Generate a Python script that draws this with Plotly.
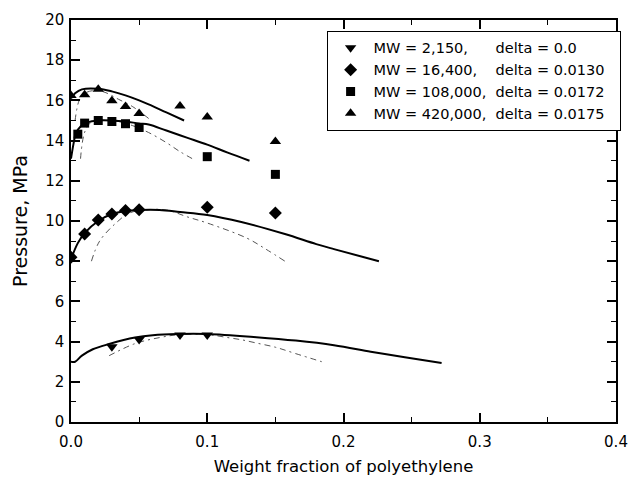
import plotly.graph_objects as go

# ---- measured data (weight fraction of PE, pressure in MPa) ----
x_mw2150 = [0.03, 0.05, 0.08, 0.10]
y_mw2150 = [3.75, 4.10, 4.33, 4.33]

x_mw16400 = [0.0, 0.01, 0.02, 0.03, 0.04, 0.05, 0.10, 0.15]
y_mw16400 = [8.20, 9.35, 10.05, 10.35, 10.52, 10.56, 10.68, 10.40]

x_mw108000 = [0.005, 0.01, 0.02, 0.03, 0.04, 0.05, 0.10, 0.15]
y_mw108000 = [14.32, 14.87, 15.00, 14.95, 14.84, 14.65, 13.20, 12.32]

x_mw420000 = [0.0, 0.01, 0.02, 0.03, 0.04, 0.05, 0.08, 0.10, 0.15]
y_mw420000 = [16.25, 16.28, 16.55, 15.98, 15.70, 15.35, 15.72, 15.18, 13.95]

# ---- model curves: solid (with delta) ----
xs_2150 = [0.0, 0.003, 0.008, 0.016, 0.028, 0.047, 0.06, 0.078, 0.10, 0.136, 0.165, 0.193, 0.22, 0.245, 0.272]
ys_2150 = [3.00, 3.00, 3.30, 3.62, 3.88, 4.20, 4.32, 4.38, 4.38, 4.22, 4.05, 3.82, 3.50, 3.22, 2.94]

xs_16400 = [0.0, 0.005, 0.01, 0.02, 0.03, 0.04, 0.05, 0.065, 0.08, 0.10, 0.125, 0.157, 0.18, 0.193, 0.226]
ys_16400 = [8.10, 8.90, 9.40, 10.00, 10.35, 10.50, 10.55, 10.55, 10.45, 10.30, 9.95, 9.35, 8.85, 8.60, 8.00]

xs_108000 = [0.0, 0.002, 0.0035, 0.007, 0.012, 0.02, 0.03, 0.04, 0.05, 0.057, 0.07, 0.085, 0.10, 0.115, 0.131]
ys_108000 = [13.10, 13.90, 14.35, 14.70, 14.90, 15.00, 15.00, 14.95, 14.85, 14.80, 14.50, 14.15, 13.80, 13.40, 13.00]

xs_420000 = [0.0, 0.003, 0.008, 0.02, 0.03, 0.04, 0.05, 0.057, 0.07, 0.083]
ys_420000 = [16.10, 16.35, 16.55, 16.58, 16.45, 16.25, 16.00, 15.80, 15.40, 15.00]

# ---- model curves: dashed (without delta) ----
xd_2150 = [0.028, 0.047, 0.065, 0.08, 0.10, 0.115, 0.126, 0.136, 0.15, 0.165, 0.184]
yd_2150 = [3.30, 3.90, 4.20, 4.35, 4.35, 4.20, 4.08, 3.93, 3.72, 3.40, 3.00]

xd_16400 = [0.015, 0.021, 0.033, 0.043, 0.055, 0.07, 0.0856, 0.10, 0.129, 0.143, 0.157]
yd_16400 = [8.00, 9.00, 9.90, 10.40, 10.55, 10.55, 10.20, 9.90, 9.15, 8.60, 8.00]

xd_108000 = [0.007, 0.0105, 0.0165, 0.025, 0.035, 0.045, 0.057, 0.07, 0.08, 0.0904]
yd_108000 = [13.10, 14.50, 15.00, 15.00, 14.95, 14.75, 14.40, 13.90, 13.45, 13.05]

xd_420000 = [0.003, 0.006, 0.01, 0.018, 0.025, 0.035, 0.045, 0.057]
yd_420000 = [15.00, 16.00, 16.35, 16.50, 16.40, 16.05, 15.70, 15.10]

NB = "\u00a0"
labels = [
    "MW = 2,150," + NB * 6 + "delta = 0.0",
    "MW = 16,400," + NB * 4 + "delta = 0.0130",
    "MW = 108,000," + NB * 2 + "delta = 0.0172",
    "MW = 420,000," + NB * 2 + "delta = 0.0175" + NB * 2,
]

FONT = "DejaVu Sans"
fig = go.Figure()

solid = [(xs_2150, ys_2150), (xs_16400, ys_16400), (xs_108000, ys_108000), (xs_420000, ys_420000)]
dashed = [(xd_2150, yd_2150), (xd_16400, yd_16400), (xd_108000, yd_108000), (xd_420000, yd_420000)]

for x, y in dashed:
    fig.add_trace(go.Scatter(x=x, y=y, mode="lines", showlegend=False, hoverinfo="skip",
                             line=dict(color="#555555", width=1, dash="6px,4px,2px,4px", shape="spline")))
for x, y in solid:
    fig.add_trace(go.Scatter(x=x, y=y, mode="lines", showlegend=False, hoverinfo="skip",
                             line=dict(color="black", width=2, shape="spline")))

points = [
    (x_mw2150, y_mw2150, "triangle-down", 10),
    (x_mw16400, y_mw16400, "diamond", 10),
    (x_mw108000, y_mw108000, "square", 9),
    (x_mw420000, y_mw420000, "triangle-up", 10),
]
for (x, y, sym, size), name in zip(points, labels):
    fig.add_trace(go.Scatter(x=x, y=y, mode="markers", name=name,
                             marker=dict(symbol=sym, size=size, color="black")))

axis_common = dict(
    showline=True, linecolor="black", linewidth=1.5, mirror="ticks",
    ticks="inside", ticklen=9, tickwidth=1.5, tickcolor="black",
    showgrid=False, zeroline=False,
    tickfont=dict(family=FONT, size=15, color="black"),
)

fig.update_xaxes(range=[0, 0.4], tickvals=[0, 0.1, 0.2, 0.3, 0.4], tickformat=".1f",
                 ticklabelstandoff=5,
                 minor=dict(tickvals=[0.05, 0.15, 0.25, 0.35], ticks="inside", ticklen=5,
                            tickwidth=1, tickcolor="black"),
                 title=dict(text="Weight fraction of polyethylene", font=dict(family=FONT, size=16.5, color="black"),
                            standoff=11),
                 **axis_common)
fig.update_yaxes(range=[0, 20], dtick=2, ticklabelstandoff=2,
                 minor=dict(dtick=1, ticks="inside", ticklen=5, tickwidth=1, tickcolor="black"),
                 title=dict(text="Pressure, MPa", font=dict(family=FONT, size=19, color="black"),
                            standoff=13),
                 **axis_common)

fig.update_layout(
    width=639, height=484,
    margin=dict(l=71, r=11, t=18, b=62),
    paper_bgcolor="white", plot_bgcolor="white",
    font=dict(family=FONT, color="black"),
    legend=dict(x=0.469, y=0.973, xanchor="left", yanchor="top",
                bgcolor="white", bordercolor="black", borderwidth=1,
                font=dict(family=FONT, size=14.5, color="black"),
                tracegroupgap=0, itemwidth=36),
)

fig.write_html("out.html")
